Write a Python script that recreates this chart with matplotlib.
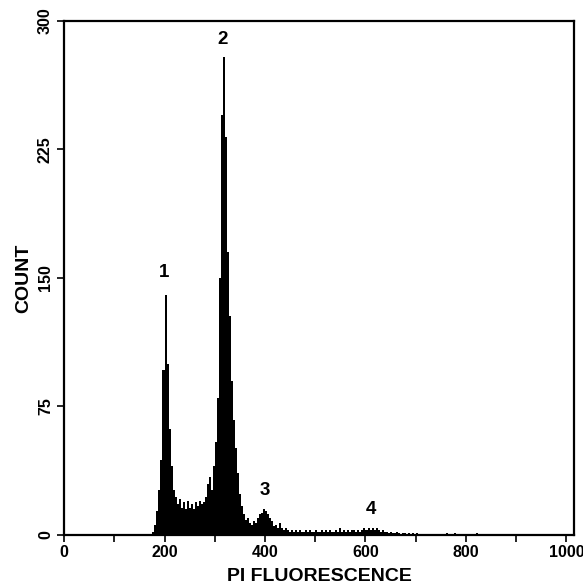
import matplotlib
matplotlib.use("Agg")
import matplotlib.pyplot as plt
from matplotlib.ticker import MultipleLocator
import numpy as np

# histogram: counts in 4-channel bins starting at channel 176
first_channel = 176
bin_width = 4
counts = [
    2, 6, 14, 26, 44, 96, 140, 100, 62, 40,
    26, 22, 18, 21, 16, 19, 15, 20, 16, 18,
    15, 19, 17, 20, 18, 19, 22, 30, 34, 26,
    40, 54, 80, 150, 245, 279, 232, 165, 128, 90,
    67, 51, 36, 24, 17, 12, 9, 10, 7, 6,
    8, 7, 10, 12, 13, 15, 14, 12, 10, 8,
    5, 6, 4, 7, 4, 3, 4, 3, 2, 3,
    2, 3, 2, 3, 2, 2, 3, 2, 3, 2,
    2, 3, 2, 2, 3, 2, 3, 2, 3, 2,
    2, 3, 2, 4, 2, 3, 2, 3, 2, 3,
    3, 2, 3, 2, 3, 4, 3, 4, 3, 4,
    3, 4, 3, 2, 3, 2, 2, 1, 2, 1,
    1, 2, 1, 0, 1, 1, 0, 1, 0, 1,
    0, 1,
]

# a few isolated events far to the right
sparse_channels = [760, 776, 820]
sparse_counts = [1, 1, 1]

peak_labels = ["1", "2", "3", "4"]
peak_x = [200, 315, 400, 610]
peak_y = [153, 289, 26, 15]

x_ticks = [0, 200, 400, 600, 800, 1000]
y_ticks = [0, 75, 150, 225, 300]

font = "Liberation Sans"

fig = plt.figure(figsize=(5.83, 5.88), dpi=100)
ax = fig.add_axes([0.1098, 0.0901, 0.8748, 0.8747])

edges = first_channel + bin_width * np.arange(len(counts) + 1)
ax.stairs(counts, edges, fill=True, color="black", linewidth=0)
ax.bar(sparse_channels, sparse_counts, width=bin_width, align="edge",
       color="black", linewidth=0)

for label, x, y in zip(peak_labels, peak_x, peak_y):
    ax.text(x, y, label, ha="center", va="center", fontsize=13.5,
            fontweight="bold", family=font)

ax.set_xlim(0, 1015)
ax.set_ylim(0, 300)

ax.set_xticks(x_ticks)
ax.xaxis.set_minor_locator(MultipleLocator(100))
ax.set_yticks(y_ticks)
ax.set_xticklabels([str(t) for t in x_ticks], fontsize=11.5, fontweight="bold",
                   family=font)
ax.set_yticklabels([str(t) for t in y_ticks], fontsize=11.5, fontweight="bold",
                   family=font, rotation=90, va="center")

ax.tick_params(axis="both", which="both", direction="out", width=1.2,
               length=5, color="black")
ax.tick_params(axis="x", which="major", pad=2)
ax.tick_params(axis="y", which="major", pad=3)

for spine in ax.spines.values():
    spine.set_linewidth(1.6)

ax.set_xlabel("PI FLUORESCENCE", fontsize=14, fontweight="bold", family=font,
              labelpad=6)
ax.set_ylabel("COUNT", fontsize=14, fontweight="bold", family=font,
              labelpad=4)

fig.savefig("out.png", dpi=100)
